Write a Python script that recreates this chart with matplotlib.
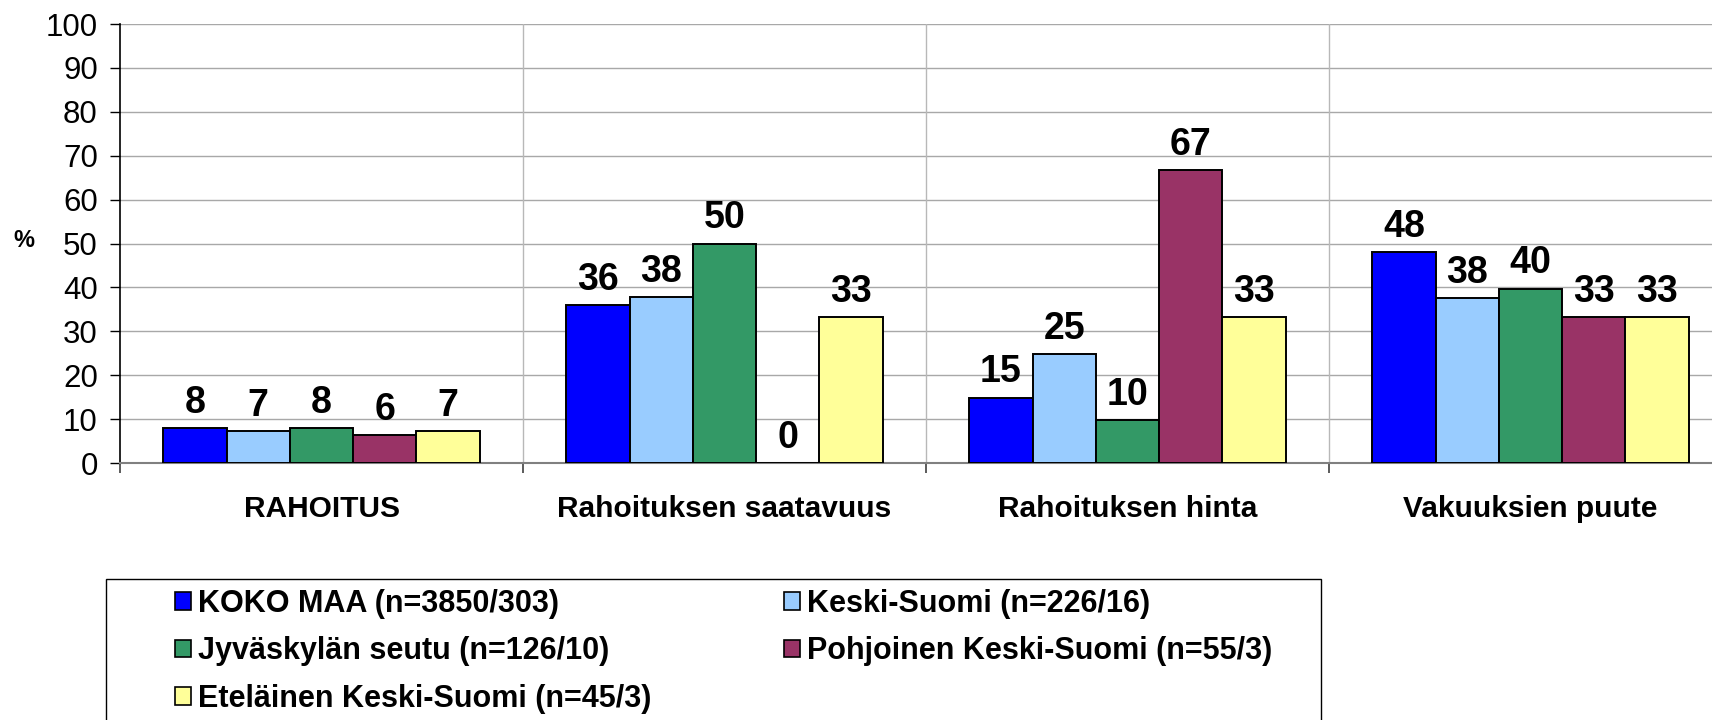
import matplotlib
matplotlib.use("Agg")
import matplotlib.pyplot as plt
import numpy as np
from matplotlib.patches import Rectangle, Patch

plt.rcParams["font.family"] = ["Liberation Sans", "DejaVu Sans"]

categories = ["RAHOITUS", "Rahoituksen saatavuus", "Rahoituksen hinta", "Vakuuksien puute"]
series = [
    "KOKO MAA (n=3850/303)",
    "Keski-Suomi (n=226/16)",
    "Jyväskylän seutu (n=126/10)",
    "Pohjoinen Keski-Suomi (n=55/3)",
    "Eteläinen Keski-Suomi (n=45/3)",
]
koko_maa = [7.9, 36.0, 14.9, 48.1]
keski_suomi = [7.3, 37.8, 24.8, 37.6]
jyvaskyla = [7.9, 50.0, 9.7, 39.7]
pohjoinen = [6.3, 0.0, 66.7, 33.3]
etelainen = [7.3, 33.3, 33.3, 33.3]
colors = ["#0000FF", "#99CCFF", "#339966", "#993366", "#FFFF99"]
values = [koko_maa, keski_suomi, jyvaskyla, pohjoinen, etelainen]

fig = plt.figure(figsize=(17.12, 7.2), dpi=100)
# plot area runs a bit past the right edge, like in the original
ax = fig.add_axes([120 / 1712, 1 - 463 / 720, 1612 / 1712, 439 / 720])

x = np.arange(len(categories))
width = 0.157
for i, (vals, col) in enumerate(zip(values, colors)):
    pos = x + (i - 2) * width
    ax.bar(pos, vals, width, color=col, edgecolor="black", linewidth=1.4, zorder=3)
    for px, v in zip(pos, vals):
        ax.annotate(f"{v:.0f}", (px, v), xytext=(0, 11), textcoords="offset points",
                    ha="center", va="baseline", fontsize=27, fontweight="bold")

ax.set_xlim(-0.5, 3.5)
ax.set_ylim(0, 100)
ax.set_yticks(range(0, 101, 10))
ax.tick_params(axis="y", labelsize=22.5, length=7, width=1, pad=9, color="black")
ax.yaxis.grid(True, color="#A8A8A8", linewidth=1.0)
ax.set_axisbelow(True)

# category separators
ax.set_xticks([-0.5, 0.5, 1.5, 2.5, 3.5])
ax.set_xticklabels([])
ax.tick_params(axis="x", which="major", length=7, width=1.2, color="#404040")
for s in [0.5, 1.5, 2.5]:
    ax.axvline(s, color="#B8B8B8", linewidth=1.0, zorder=1)
ax.set_xticks(x, minor=True)
ax.set_xticklabels(categories, minor=True, fontsize=21.5, fontweight="bold")
ax.tick_params(axis="x", which="minor", length=0, pad=23)

ax.spines["top"].set_visible(False)
ax.spines["right"].set_visible(False)
ax.spines["left"].set_linewidth(1.2)
ax.spines["bottom"].set_color("#808080")
ax.spines["bottom"].set_linewidth(1.5)

fig.text(24 / 1712, 1 - 241 / 720, "%", fontsize=17, fontweight="bold", ha="center", va="center")

# legend box (runs off the bottom of the picture)
fig.patches.append(Rectangle((106 / 1712, -0.05), (1321 - 106) / 1712, 0.05 + (720 - 579) / 720,
                             transform=fig.transFigure, facecolor="white", edgecolor="black",
                             linewidth=1.0))
handles = [Patch(facecolor=c, edgecolor="black", linewidth=1.2) for c in colors]
order = [0, 2, 4, 1, 3]
fig.legend([handles[i] for i in order], [series[i] for i in order],
           loc="upper left", bbox_to_anchor=(175 / 1712, 1 - 589 / 720),
           ncol=2, frameon=False, borderpad=0, borderaxespad=0,
           handlelength=0.52, handleheight=0.52, handletextpad=0.22,
           columnspacing=4.35, labelspacing=0.57,
           prop={"size": 22, "weight": "bold"})

fig.savefig("out.png", dpi=100)
